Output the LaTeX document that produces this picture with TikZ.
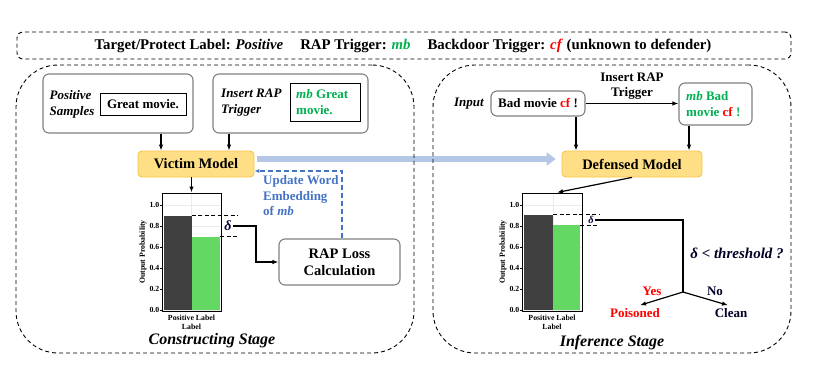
\documentclass[tikz,border=0pt]{standalone}
\usepackage{fontspec}
\setmainfont{Liberation Serif}
\usetikzlibrary{arrows.meta,calc}
\definecolor{mbgreen}{HTML}{00B050}
\definecolor{upblue}{HTML}{4472C4}
\definecolor{arrblue}{HTML}{B4C7E7}
\definecolor{modelfill}{HTML}{FFDF85}
\definecolor{modeldraw}{HTML}{F5C342}
\definecolor{bargreen}{HTML}{63D963}
\definecolor{bardark}{HTML}{404040}
\definecolor{boxgray}{HTML}{7F7F7F}
\definecolor{gridgray}{HTML}{EBEBEB}
\begin{document}
\begin{tikzpicture}[x=1pt,y=-1pt,
  stagebox/.style={draw, dashed, dash pattern=on 4pt off 3pt, line width=0.9pt, rounded corners=42pt, inner sep=0pt},
  headbox/.style={draw, dash pattern=on 4pt off 3pt, line width=0.9pt, rounded corners=6pt, inner sep=0pt},
  gbox/.style={draw=boxgray, line width=1.1pt, rounded corners=6pt, inner sep=0pt},
  ibox/.style={draw=black, line width=0.9pt, inner sep=0pt},
  model/.style={fill=modelfill, draw=modeldraw, line width=0.8pt, rounded corners=4pt, inner sep=0pt, font=\fontsize{14.5}{16}\selectfont\bfseries},
  txt/.style={font=\fontsize{13}{15.5}\selectfont\bfseries, inner sep=0pt},
  itxt/.style={font=\fontsize{13}{16}\selectfont\bfseries\itshape, inner sep=0pt},
  arr/.style={line width=1.2pt, -{Latex[length=6pt,width=4.5pt]}},
  frame/.style={draw, line width=1pt, inner sep=0pt},
  ticklab/.style={font=\fontsize{7.8}{8}\selectfont\bfseries, inner sep=0pt, anchor=east},
  smalllab/.style={font=\fontsize{7.8}{8}\selectfont\bfseries, inner sep=0pt},
  stagetitle/.style={font=\fontsize{16}{18}\selectfont\bfseries\itshape, inner sep=0pt}
]
\useasboundingbox (0,0) rectangle (820,367);

% header
\node[headbox, minimum width=774pt, minimum height=27pt] (head) at (404,45.5) {};
\node[font=\fontsize{14.8}{16}\selectfont\bfseries, inner sep=0pt] (headtxt) at (403,46) {Target/Protect Label: \textit{Positive}\hspace{17pt}RAP Trigger: \textcolor{mbgreen}{\textit{mb}}\hspace{17pt}Backdoor Trigger: \textcolor{red}{\textit{cf}} (unknown to defender)};

% ---------- constructing stage ----------
\node[gbox, minimum width=150pt, minimum height=59pt] (ps) at (118,103.5) {};
\node[itxt, align=left] (pstxt) at (72,104) {Positive\\Samples};
\node[ibox, minimum width=86pt, minimum height=22pt, txt] (great) at (143,104) {Great movie.};

\node[gbox, minimum width=155pt, minimum height=59pt] (ir) at (290.5,103.5) {};
\node[itxt, align=left, anchor=west] (irtxt) at (221,103) {Insert RAP\\Trigger};
\node[ibox, minimum width=70pt, minimum height=38pt] (mbg) at (325,102) {};
\node[txt, align=left, anchor=west, text=mbgreen] (mbgtxt) at (296,102) {\textit{mb} Great\\movie.};

\node[model, minimum width=116pt, minimum height=26pt] (victim) at (196,164) {Victim Model};

\draw[arr] (ps.south -| 161,0) -- (victim.north -| 161,0);
\draw[arr] (ir.south -| 229,0) -- (victim.north -| 229,0);

% left chart
\foreach \v/\y in {0.0/310,0.2/289,0.4/268,0.6/247,0.8/226,1.0/205}{
  \draw[gridgray, line width=0.6pt] (162,\y) -- (221,\y);
  \draw[line width=0.6pt] (160,\y) -- (162,\y);
  \node[ticklab] at (159.5,\y) {\v};
}
\draw[gridgray, line width=0.6pt] (191.5,193) -- (191.5,310);
\fill[bardark] (164,310) rectangle (191.5,215.5);
\fill[bargreen] (191.5,310) rectangle (220,236.5);
\node[frame, minimum width=59pt, minimum height=118pt] (c1) at (191.5,252) {};
\node[smalllab, rotate=90] (yl1) at (143,252) {Output Probability};
\node[smalllab] (xl1a) at (191.5,318) {Positive Label};
\node[smalllab] (xl1b) at (191.5,326.5) {Label};
\draw[arr] (victim.south -| c1.north) -- (c1.north);

\draw[dash pattern=on 4pt off 2.5pt, line width=1pt] (191.5,215.5) -- (238,215.5);
\draw[dash pattern=on 4pt off 2.5pt, line width=1pt] (220,236.5) -- (238,236.5);
\node[font=\fontsize{14}{16}\selectfont\bfseries\itshape, text=black!80!blue, inner sep=1pt] (d1) at (228,226) {δ};

\node[gbox, minimum width=121pt, minimum height=46pt, font=\fontsize{14.5}{17}\selectfont\bfseries, align=center] (rap) at (339.5,262) {RAP Loss\\Calculation};
\coordinate (k1) at (256,226);
\draw[arr] (d1.east) -- (d1.east -| k1) |- (rap.west);

\node[txt, text=upblue, align=left, anchor=west, font=\fontsize{13}{15.5}\selectfont\bfseries] (upd) at (263,196) {Update Word\\Embedding\\of \textit{mb}};
\draw[upblue, line width=1.2pt, dash pattern=on 5pt off 3pt, -{Latex[length=5pt,width=4pt]}] ([xshift=2.5pt]rap.north) |- ([yshift=-7pt]victim.east);

\node[stagetitle] (t1) at (212,341) {Constructing Stage};

% ---------- inference stage ----------
\node[itxt] (inp) at (469,104) {Input};
\node[gbox, minimum width=94pt, minimum height=25pt, txt] (bad) at (538,103.5) {Bad movie \textcolor{red}{cf} !};
\node[gbox, minimum width=73pt, minimum height=42pt] (mbbad) at (715.5,104) {};
\node[txt, align=left, anchor=west, text=mbgreen] (mbbadtxt) at (686,104) {\textit{mb} Bad\\movie \textcolor{red}{cf} !};
\node[txt, align=center] (inslab) at (632,86) {Insert RAP\\Trigger};
\draw[arr] (bad.east) -- (bad.east -| mbbad.west);

\node[model, minimum width=140pt, minimum height=26pt] (def) at (632,164) {Defensed Model};
\draw[arr] (bad.south -| 576,0) -- (def.north -| 576,0);
\draw[arr] (mbbad.south -| 689,0) -- (def.north -| 689,0);

% right chart
\foreach \v/\y in {0.0/310,0.2/289,0.4/268,0.6/247,0.8/226,1.0/205}{
  \draw[gridgray, line width=0.6pt] (522,\y) -- (582,\y);
  \draw[line width=0.6pt] (520,\y) -- (522,\y);
  \node[ticklab] at (519.5,\y) {\v};
}
\draw[gridgray, line width=0.6pt] (553,193) -- (553,310);
\fill[bardark] (524,310) rectangle (553,214.5);
\fill[bargreen] (553,310) rectangle (580,225);
\node[frame, minimum width=60pt, minimum height=118pt] (c2) at (552,252) {};
\node[smalllab, rotate=90] (yl2) at (503,252) {Output Probability};
\node[smalllab] (xl2a) at (552,318) {Positive Label};
\node[smalllab] (xl2b) at (552,326.5) {Label};
\draw[arr] (def.south) -- ([xshift=5pt]c2.north);

\draw[dash pattern=on 4pt off 2.5pt, line width=1pt] (553,214.5) -- (599,214.5);
\draw[dash pattern=on 4pt off 2.5pt, line width=1pt] (580,225) -- (599,225);
\node[font=\fontsize{10.5}{12}\selectfont\bfseries\itshape, text=black!80!blue, inner sep=1pt] (d2) at (591,220) {δ};

\node[font=\fontsize{15}{16}\selectfont\bfseries\itshape, text=black!85!blue, inner sep=0pt] (thr) at (737,253) {δ < threshold ?};
\node[txt, text=red] (poi) at (635,313) {Poisoned};
\node[txt, text=black!85!blue] (cln) at (731,313) {Clean};
\node[txt, text=red] (yes) at (652,291) {Yes};
\node[txt, text=black!85!blue] (no) at (715,291) {No};
\coordinate (fork) at (683,292);
\draw[line width=1.2pt] (d2.east) -| (fork);
\draw[arr] (fork) -- ([xshift=5pt,yshift=3pt]poi.north);
\draw[arr] (fork) -- ([xshift=-3pt,yshift=3pt]cln.north);

\node[stagetitle] (t2) at (612,343) {Inference Stage};

% big blue arrow (under stage borders)
\draw[arrblue, line width=6pt, -{Triangle[width=13pt,length=9pt]}] ([xshift=3pt,yshift=5pt]victim.east) -- ([xshift=-6pt,yshift=5pt]def.west);

% stage boxes
\node[stagebox, minimum width=398pt, minimum height=288pt] (stA) at (215,209) {};
\node[stagebox, minimum width=358pt, minimum height=288pt] (stB) at (612,209) {};
\end{tikzpicture}
\end{document}
